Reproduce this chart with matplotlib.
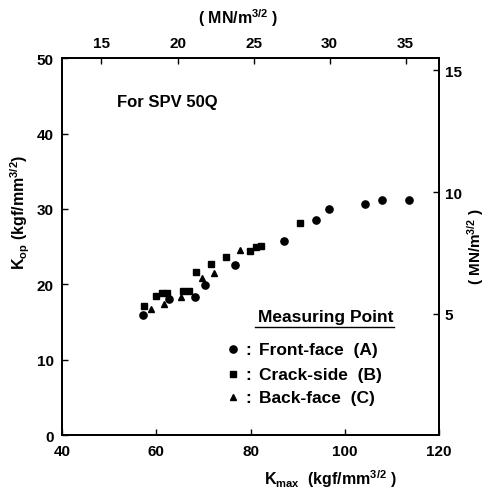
import matplotlib.pyplot as plt
import numpy as np

plt.rcParams["font.family"] = ["Liberation Sans", "DejaVu Sans"]
plt.rcParams["font.weight"] = "bold"
plt.rcParams["mathtext.fontset"] = "custom"
plt.rcParams["mathtext.rm"] = "Liberation Sans:bold"
plt.rcParams["mathtext.it"] = "Liberation Sans:bold"
plt.rcParams["mathtext.bf"] = "Liberation Sans:bold"

# Front-face (A)
kmax_a = [57.1, 62.6, 68.3, 70.3, 76.8, 87.0, 93.8, 96.7, 104.3, 107.8, 113.5]
kop_a = [15.9, 18.0, 18.3, 19.9, 22.6, 25.7, 28.5, 30.0, 30.6, 31.2, 31.2]
# Crack-side (B)
kmax_b = [57.3, 60.0, 61.3, 62.3, 65.7, 66.9, 68.5, 71.5, 74.8, 79.8, 81.1, 82.3, 90.4]
kop_b = [17.1, 18.5, 18.8, 18.8, 19.1, 19.1, 21.6, 22.7, 23.6, 24.4, 25.0, 25.1, 28.1]
# Back-face (C)
kmax_c = [58.9, 61.6, 65.3, 69.6, 72.2, 77.7]
kop_c = [16.8, 17.4, 18.3, 20.8, 21.5, 24.5]

conv = 3.225  # kgf/mm^3/2 per MN/m^3/2
top_ticks = [15, 20, 25, 30, 35]
right_ticks = [5, 10, 15]

fig = plt.figure(figsize=(4.88, 4.89), dpi=100)
ax = fig.add_axes([0.127, 0.108, 0.773, 0.771])

ax.plot(kmax_a, kop_a, "o", color="black", markersize=5.2)
ax.plot(kmax_b, kop_b, "s", color="black", markersize=4.8)
ax.plot(kmax_c, kop_c, "^", color="black", markersize=5.0)

ax.set_xlim(40, 120)
ax.set_ylim(0, 50)
ax.set_xticks([40, 60, 80, 100, 120])
ax.set_yticks([0, 10, 20, 30, 40, 50])
ax.tick_params(direction="in", length=4, width=1, labelsize=11, pad=6)

for lbl in ax.get_xticklabels() + ax.get_yticklabels():
    lbl.set_fontweight("bold")

# top axis in MN/m^3/2
axt = ax.twiny()
axt.set_xlim(ax.get_xlim())
axt.set_xticks([t * conv for t in top_ticks])
axt.set_xticklabels([str(t) for t in top_ticks])
axt.tick_params(direction="in", length=4, width=1, labelsize=11, pad=6)

# right axis in MN/m^3/2
axr = ax.twinx()
axr.set_ylim(ax.get_ylim())
axr.set_yticks([t * conv for t in right_ticks])
axr.set_yticklabels([str(t) for t in right_ticks])
axr.tick_params(direction="in", length=4, width=1, labelsize=11, pad=4)

for a in (axt, axr):
    for lbl in a.get_xticklabels() + a.get_yticklabels():
        lbl.set_fontweight("bold")

for a in (ax, axt, axr):
    for s in a.spines.values():
        s.set_linewidth(1.2)

fig.text(0.678, 0.02, r"K$_{max}$  (kgf/mm$^{3/2}$ )", ha="center", va="center",
         fontsize=11.5, fontweight="bold")
fig.text(0.041, 0.566, r"K$_{op}$ (kgf/mm$^{3/2}$)", ha="center", va="center",
         rotation=90, fontsize=11.5, fontweight="bold")
fig.text(0.975, 0.495, r"( MN/m$^{3/2}$ )", ha="center", va="center",
         rotation=90, fontsize=11, fontweight="bold")
fig.text(0.488, 0.963, r"( MN/m$^{3/2}$ )", ha="center", va="center",
         fontsize=11.5, fontweight="bold")

ax.text(51.6, 44.2, "For SPV 50Q", fontsize=12, fontweight="bold", va="center")

# measuring point legend
ax.text(81.5, 15.7, "Measuring Point", fontsize=12.5, fontweight="bold", va="center")
ax.plot([80.9, 110.4], [14.36, 14.36], color="black", linewidth=1.0)
legend_rows = [("o", 5.2, "Front-face  (A)", 11.4),
               ("s", 4.5, "Crack-side  (B)", 8.1),
               ("^", 4.5, "Back-face  (C)", 5.05)]
for mk, ms, label, yy in legend_rows:
    ax.plot([76.2], [yy], mk, color="black", markersize=ms)
    ax.text(78.9, yy, ":", fontsize=12.5, fontweight="bold", va="center")
    ax.text(81.7, yy, label, fontsize=12.5, fontweight="bold", va="center")

fig.savefig("out.png", dpi=100)
